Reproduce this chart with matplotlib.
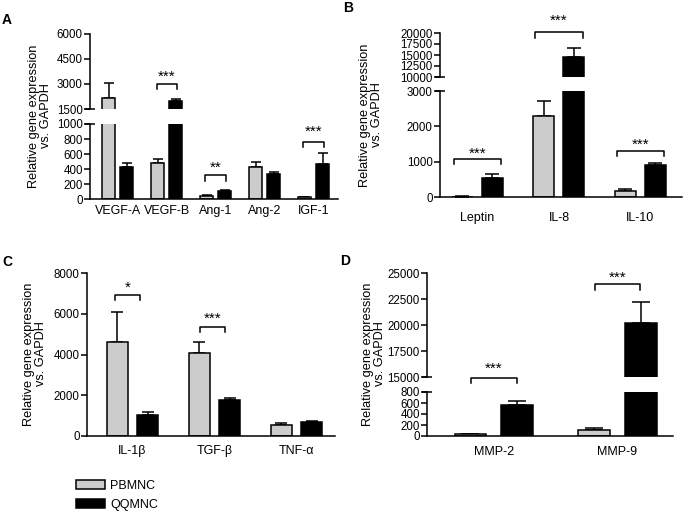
import numpy as np
import matplotlib
matplotlib.use('Agg')
import matplotlib.pyplot as plt
from matplotlib.patches import Patch

plt.rcParams['font.family'] = ['Liberation Sans', 'DejaVu Sans']

# ---------------- data ----------------
a_cats = ['VEGF-A', 'VEGF-B', 'Ang-1', 'Ang-2', 'IGF-1']
a_pb = [2150, 477, 45, 423, 22]
a_pb_err = [900, 60, 12, 72, 8]
a_qq = [432, 1960, 108, 333, 468]
a_qq_err = [50, 140, 18, 32, 150]

b_cats = ['Leptin', 'IL-8', 'IL-10']
b_pb = [12, 2292, 179]
b_pb_err = [6, 416, 40]
b_qq = [538, 14550, 915]
b_qq_err = [122, 1950, 57]

c_cats = ['IL-1\u03b2', 'TGF-\u03b2', 'TNF-\u03b1']
c_pb = [4590, 4050, 551]
c_pb_err = [1490, 550, 65]
c_qq = [1053, 1783, 697]
c_qq_err = [147, 65, 48]

d_cats = ['MMP-2', 'MMP-9']
d_pb = [30, 108]
d_pb_err = [15, 37]
d_qq = [572, 20240]
d_qq_err = [60, 1960]

GRAY = '#cccccc'
W, H = 683, 511
LW = 1.1
TICK_FS = 8.3
CAT_FS = 9
STAR_FS = 11

fig = plt.figure(figsize=(W / 100, H / 100), dpi=100, facecolor='white')


def box(x0, x1, ytop, ybot):
    # pixel box -> figure fraction
    return [x0 / W, 1 - ybot / H, (x1 - x0) / W, (ybot - ytop) / H]


def draw_bars(ax, pb, pb_err, qq, qq_err, off, width, cap):
    x = np.arange(len(pb))
    n = len(pb)
    ax.bar(x - off, pb, width, color=GRAY, edgecolor='black', linewidth=LW, zorder=2)
    ax.bar(x + off, qq, width, color='black', edgecolor='black', linewidth=LW, zorder=2)
    ax.errorbar(x - off, pb, yerr=[[0] * n, pb_err], fmt='none', ecolor='black',
                elinewidth=LW, capsize=cap, capthick=LW, zorder=1)
    ax.errorbar(x + off, qq, yerr=[[0] * n, qq_err], fmt='none', ecolor='black',
                elinewidth=LW, capsize=cap, capthick=LW, zorder=1)


def style(ax, xlim, ylim, yticks, upper=False, cats=None, pad=5):
    ax.set_xlim(*xlim)
    ax.set_ylim(*ylim)
    ax.set_yticks(yticks)
    for s in ['top', 'right']:
        ax.spines[s].set_visible(False)
    for s in ['left', 'bottom']:
        ax.spines[s].set_linewidth(LW)
    ax.tick_params(axis='y', length=4, width=LW, labelsize=TICK_FS, pad=1.2)
    if upper:
        ax.spines['bottom'].set_visible(False)
        ax.set_xticks([])
    else:
        ax.set_xticks(np.arange(len(cats)))
        ax.set_xticklabels(cats)
        ax.tick_params(axis='x', length=0, labelsize=CAT_FS, pad=pad)


def break_cap(ax, ypos, wpx):
    d = 5 / wpx
    ax.plot([-d, d], [ypos, ypos], transform=ax.transAxes, color='black',
            lw=LW, clip_on=False, solid_capstyle='butt')


def bracket(ax, xc, half, y, drop, label, ty):
    ax.plot([xc - half, xc - half, xc + half, xc + half], [y - drop, y, y, y - drop],
            color='black', lw=LW, clip_on=False)
    ax.annotate(label, (xc, ty), xytext=(0, -3.5), textcoords='offset points',
                ha='center', va='center', fontsize=STAR_FS, annotation_clip=False)


# ---------------- panel A ----------------
a_xlim = (-0.57, 4.5)
axA_lo = fig.add_axes(box(90, 338, 124, 199))
axA_hi = fig.add_axes(box(90, 338, 34, 109))
for ax in (axA_lo, axA_hi):
    draw_bars(ax, a_pb, a_pb_err, a_qq, a_qq_err, 0.185, 0.265, 3.6)
style(axA_lo, a_xlim, (0, 1000), range(0, 1001, 200), cats=a_cats, pad=4.5)
style(axA_hi, a_xlim, (1500, 6000), range(1500, 6001, 1500), upper=True)
break_cap(axA_lo, 1, 248)
break_cap(axA_hi, 0, 248)
bracket(axA_hi, 1, 0.21, 3000, 300, '***', 3750)
bracket(axA_lo, 2, 0.21, 320, 80, '**', 480)
bracket(axA_lo, 4, 0.21, 766, 72, '***', 955)

# ---------------- panel B ----------------
b_xlim = (-0.46, 2.51)
axB_lo = fig.add_axes(box(440, 682, 91, 197))
axB_hi = fig.add_axes(box(440, 682, 33, 77))
for ax in (axB_lo, axB_hi):
    draw_bars(ax, b_pb, b_pb_err, b_qq, b_qq_err, 0.184, 0.258, 4.7)
style(axB_lo, b_xlim, (0, 3000), range(0, 3001, 1000), cats=b_cats, pad=11)
style(axB_hi, b_xlim, (10000, 20000), range(10000, 20001, 2500), upper=True)
break_cap(axB_lo, 1, 242)
break_cap(axB_hi, 0, 242)
bracket(axB_lo, 0, 0.29, 1075, 150, '***', 1350)
bracket(axB_hi, 1, 0.29, 20150, 1270, '***', 23960)
bracket(axB_lo, 2, 0.29, 1311, 150, '***', 1604)

# ---------------- panel C ----------------
axC = fig.add_axes(box(87, 335, 273, 436))
draw_bars(axC, c_pb, c_pb_err, c_qq, c_qq_err, 0.185, 0.256, 4.3)
style(axC, (-0.555, 2.47), (0, 8000), range(0, 8001, 2000), cats=c_cats, pad=6.5)
bracket(axC, -0.06, 0.153, 6937, 245, '*', 7530)
bracket(axC, -0.02 + 1, 0.153, 5348, 245, '***', 5997)

# ---------------- panel D ----------------
d_xlim = (-0.54, 1.45)
axD_lo = fig.add_axes(box(427, 673, 392, 436))
axD_hi = fig.add_axes(box(427, 673, 273, 377))
for ax in (axD_lo, axD_hi):
    draw_bars(ax, d_pb, d_pb_err, d_qq, d_qq_err, 0.19, 0.255, 6.5)
style(axD_lo, d_xlim, (0, 800), range(0, 801, 200), cats=d_cats, pad=7.5)
style(axD_hi, d_xlim, (15000, 25000), range(15000, 25001, 2500), upper=True)
break_cap(axD_lo, 1, 246)
break_cap(axD_hi, 0, 246)
bracket(axD_hi, 0, 0.185, 14940, 490, '***', 16220)
bracket(axD_hi, 1, 0.185, 23940, 550, '***', 25000)

# ---------------- labels ----------------
ylab = 'Relative gene expression\nvs. GAPDH'
for xp, yp in [(40, 116), (371, 115), (35, 354), (374, 354)]:
    fig.text(xp / W, 1 - yp / H, ylab, rotation=90, ha='center', va='center',
             fontsize=9.2, linespacing=1.1)

for lab, xp, yp in [('A', 2, 20), ('B', 343, 8), ('C', 2, 262), ('D', 340, 261)]:
    fig.text(xp / W, 1 - yp / H, lab, ha='left', va='center', fontsize=10, fontweight='bold')

handles = [Patch(facecolor=GRAY, edgecolor='black', linewidth=LW, label='PBMNC'),
           Patch(facecolor='black', edgecolor='black', linewidth=LW, label='QQMNC')]
fig.legend(handles=handles, loc='upper left', bbox_to_anchor=(76 / W, 1 - 480 / H),
           frameon=False, fontsize=9, handlelength=2.3, handleheight=0.75,
           handletextpad=0.45, labelspacing=0.55, borderpad=0, borderaxespad=0)

fig.savefig('out.png', dpi=100, facecolor='white')
